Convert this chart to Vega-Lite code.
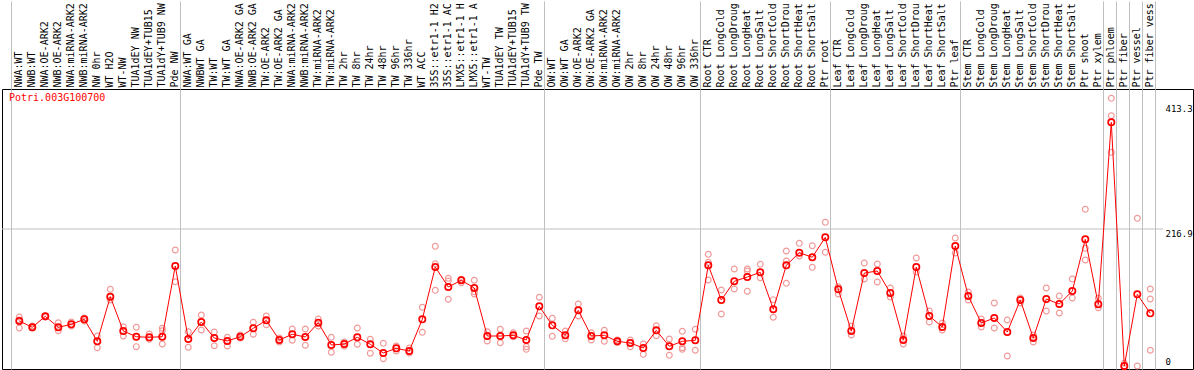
{
  "$schema": "https://vega.github.io/schema/vega-lite/v6.json",
  "width": 1191,
  "height": 280,
  "autosize": {"type": "none"},
  "padding": {"left": 2, "top": 89, "right": 1, "bottom": 1},
  "background": "white",
  "config": {"view": {"stroke": "black", "strokeWidth": 1}},
  "title": {"text": "Potri.003G100700", "anchor": "start", "frame": "group", "orient": "top", "font": "DejaVu Sans Mono", "fontSize": 10, "fontWeight": "normal", "color": "#ff0000", "dx": 7, "dy": 102, "offset": 0},
  "datasets": {
    "means": [
      {"i":1,"v":71.2},{"i":2,"v":61.3},{"i":3,"v":78.7},{"i":4,"v":61.3},{"i":5,"v":66.0},{"i":6,"v":73.9},{"i":7,"v":39.1},{"i":8,"v":109.7},{"i":9,"v":55.4},{"i":10,"v":46.4},
      {"i":11,"v":45.4},{"i":12,"v":46.4},{"i":13,"v":158.3},{"i":14,"v":42.7},{"i":15,"v":69.7},{"i":16,"v":44.3},{"i":17,"v":39.6},{"i":18,"v":46.4},{"i":19,"v":59.7},{"i":20,"v":72.3},
      {"i":21,"v":41.2},{"i":22,"v":50.2},{"i":23,"v":45.9},{"i":24,"v":68.5},{"i":25,"v":33.2},{"i":26,"v":34.8},{"i":27,"v":45.4},{"i":28,"v":34.4},{"i":29,"v":20.6},{"i":30,"v":28.0},
      {"i":31,"v":23.7},{"i":32,"v":73.9},{"i":33,"v":156.7},{"i":34,"v":125.1},{"i":35,"v":135.7},{"i":36,"v":123.5},{"i":37,"v":47.5},{"i":38,"v":47.5},{"i":39,"v":48.6},{"i":40,"v":41.2},
      {"i":41,"v":94.5},{"i":42,"v":64.4},{"i":43,"v":48.6},{"i":44,"v":88.2},{"i":45,"v":47.5},{"i":46,"v":48.6},{"i":47,"v":39.1},{"i":48,"v":36.4},{"i":49,"v":28.5},{"i":50,"v":56.5},
      {"i":51,"v":31.2},{"i":52,"v":39.1},{"i":53,"v":40.7},{"i":54,"v":159.4},{"i":55,"v":104.5},{"i":56,"v":134.1},{"i":57,"v":140.9},{"i":58,"v":148.3},{"i":59,"v":89.8},{"i":60,"v":159.4},
      {"i":61,"v":179.4},{"i":62,"v":172.1},{"i":63,"v":203.7},{"i":64,"v":121.4},{"i":65,"v":55.4},{"i":66,"v":147.2},{"i":67,"v":150.4},{"i":68,"v":115.6},{"i":69,"v":41.2},{"i":70,"v":156.7},
      {"i":71,"v":79.2},{"i":72,"v":61.7},{"i":73,"v":190.0},{"i":74,"v":110.8},{"i":75,"v":68.1},{"i":76,"v":76.0},{"i":77,"v":53.8},{"i":78,"v":104.5},{"i":79,"v":44.3},{"i":80,"v":106.1},
      {"i":81,"v":98.1},{"i":82,"v":118.7},{"i":83,"v":200.6},{"i":84,"v":97.7},{"i":85,"v":385.8},{"i":86,"v":0},{"i":87,"v":113.5},{"i":88,"v":83.4}
    ],
    "reps": [
      {"i":1,"v":77.6},{"i":1,"v":72.8},{"i":1,"v":60.2},{"i":2,"v":63.3},{"i":2,"v":60.2},{"i":3,"v":79.2},{"i":3,"v":77.6},{"i":4,"v":68.5},{"i":4,"v":55.9},
      {"i":5,"v":69.7},{"i":5,"v":63.3},{"i":6,"v":76.0},{"i":6,"v":71.2},{"i":7,"v":47.5},{"i":7,"v":29.0},{"i":8,"v":121.4},{"i":8,"v":104.5},{"i":9,"v":62.2},{"i":9,"v":47.5},
      {"i":10,"v":61.3},{"i":10,"v":30.6},{"i":11,"v":50.7},{"i":11,"v":42.3},{"i":12,"v":59.7},{"i":12,"v":55.9},{"i":12,"v":34.8},{"i":13,"v":183.6},{"i":13,"v":133.4},
      {"i":14,"v":54.3},{"i":14,"v":29.6},{"i":15,"v":80.7},{"i":15,"v":57.0},{"i":16,"v":53.8},{"i":16,"v":32.1},{"i":17,"v":45.4},{"i":17,"v":31.7},{"i":18,"v":49.1},{"i":18,"v":44.3},
      {"i":19,"v":69.2},{"i":19,"v":50.2},{"i":20,"v":79.2},{"i":20,"v":65.4},{"i":21,"v":44.3},{"i":21,"v":38.0},{"i":22,"v":58.6},{"i":22,"v":40.7},{"i":23,"v":58.6},{"i":23,"v":32.8},
      {"i":24,"v":74.4},{"i":24,"v":63.3},{"i":25,"v":45.4},{"i":25,"v":21.7},{"i":26,"v":38.0},{"i":26,"v":31.7},{"i":27,"v":60.2},{"i":27,"v":34.4},{"i":28,"v":42.3},{"i":28,"v":20.1},
      {"i":29,"v":35.9},{"i":29,"v":11.6},{"i":30,"v":31.7},{"i":30,"v":23.7},{"i":31,"v":28.5},{"i":31,"v":20.6},{"i":32,"v":92.9},{"i":32,"v":53.3},
      {"i":33,"v":189.5},{"i":33,"v":161.9},{"i":33,"v":119.8},{"i":34,"v":138.8},{"i":34,"v":134.6},{"i":34,"v":105.6},{"i":35,"v":137.2},{"i":35,"v":131.9},
      {"i":36,"v":135.7},{"i":36,"v":117.6},{"i":36,"v":114.0},{"i":37,"v":54.3},{"i":37,"v":39.6},{"i":38,"v":58.1},{"i":38,"v":36.9},{"i":39,"v":52.7},{"i":39,"v":46.4},
      {"i":40,"v":55.4},{"i":40,"v":30.6},{"i":40,"v":26.4},{"i":41,"v":108.8},{"i":41,"v":79.2},{"i":42,"v":75.5},{"i":42,"v":47.0},{"i":43,"v":55.4},{"i":43,"v":43.2},
      {"i":44,"v":98.1},{"i":44,"v":79.2},{"i":45,"v":52.7},{"i":45,"v":41.2},{"i":46,"v":56.5},{"i":46,"v":39.1},{"i":47,"v":41.2},{"i":47,"v":37.2},{"i":48,"v":41.2},{"i":48,"v":30.6},
      {"i":49,"v":34.8},{"i":49,"v":18.5},{"i":50,"v":63.8},{"i":50,"v":48.0},{"i":51,"v":42.7},{"i":51,"v":16.9},{"i":52,"v":54.9},{"i":52,"v":29.0},{"i":52,"v":26.4},{"i":53,"v":58.1},{"i":53,"v":24.9},
      {"i":54,"v":176.8},{"i":54,"v":164.2},{"i":54,"v":136.1},{"i":55,"v":120.3},{"i":55,"v":82.3},{"i":56,"v":153.6},{"i":56,"v":121.9},{"i":57,"v":153.6},{"i":57,"v":150.4},{"i":57,"v":118.3},
      {"i":58,"v":161.0},{"i":58,"v":139.8},{"i":59,"v":105.0},{"i":59,"v":77.1},{"i":60,"v":182.0},{"i":60,"v":166.2},{"i":60,"v":130.9},{"i":61,"v":194.2},{"i":61,"v":174.1},
      {"i":62,"v":190.4},{"i":62,"v":156.2},{"i":63,"v":227.5},{"i":63,"v":180.0},{"i":64,"v":125.5},{"i":64,"v":114.0},{"i":65,"v":63.3},{"i":65,"v":49.1},{"i":66,"v":163.0},{"i":66,"v":137.7},
      {"i":67,"v":161.5},{"i":67,"v":133.0},{"i":68,"v":123.5},{"i":68,"v":109.2},{"i":69,"v":47.5},{"i":69,"v":34.8},{"i":70,"v":171.0},{"i":70,"v":148.8},{"i":71,"v":87.1},{"i":71,"v":69.7},
      {"i":72,"v":68.1},{"i":72,"v":57.0},{"i":73,"v":202.6},{"i":73,"v":178.9},{"i":74,"v":117.1},{"i":74,"v":104.5},{"i":75,"v":74.4},{"i":75,"v":61.7},{"i":76,"v":99.7},{"i":76,"v":60.2},
      {"i":77,"v":72.8},{"i":77,"v":15.8},{"i":78,"v":107.6},{"i":78,"v":99.7},{"i":79,"v":49.1},{"i":79,"v":38.0},{"i":80,"v":123.5},{"i":80,"v":87.1},{"i":81,"v":110.8},{"i":81,"v":83.9},
      {"i":82,"v":137.7},{"i":82,"v":107.6},{"i":83,"v":248.1},{"i":83,"v":186.3},{"i":83,"v":167.8},{"i":84,"v":107.2},{"i":84,"v":92.3},{"i":85,"v":423.8},{"i":85,"v":396.2},{"i":85,"v":338.3},
      {"i":86,"v":4.3},{"i":86,"v":0},{"i":87,"v":233.8},{"i":87,"v":0},{"i":88,"v":121.9},{"i":88,"v":106.1},{"i":88,"v":24.9}
    ]
  },
  "resolve": {"axis": {"x": "independent", "y": "independent"}},
  "layer": [
    {
      "data": {"values": [{}]},
      "mark": {"type": "rule", "color": "#c0c0c0", "strokeWidth": 1},
      "encoding": {
        "x": {"datum": -0.33, "type": "quantitative", "scale": {"domain": [-0.33, 91.285], "nice": false, "zero": false}, "axis": null},
        "x2": {"datum": 89.0},
        "y": {"datum": 216.9, "type": "quantitative", "scale": {"domain": [-4.75, 438.6], "nice": false, "zero": false}, "axis": null}
      }
    },
    {
      "data": {"name": "reps"},
      "mark": {"type": "point", "shape": "circle", "filled": false, "size": 34, "strokeWidth": 1.2, "color": "#f09a9a", "opacity": 1},
      "encoding": {
        "x": {"field": "i", "type": "quantitative", "scale": {"domain": [-0.33, 91.285], "nice": false, "zero": false},
          "axis": {"orient": "top", "values": [0.4, 13.4, 41.4, 53.4, 63.4, 73.4, 84.4, 85.4, 86.4, 87.4, 88.4], "labels": false, "domain": false, "ticks": true, "tickSize": 88, "tickColor": "#c0c0c0", "tickWidth": 1, "grid": true, "gridColor": "#c0c0c0", "gridWidth": 1, "gridOpacity": 1, "title": null}},
        "y": {"field": "v", "type": "quantitative", "scale": {"domain": [-4.75, 438.6], "nice": false, "zero": false}, "axis": null}
      }
    },
    {
      "data": {"name": "means"},
      "mark": {"type": "line", "color": "#ff0000", "strokeWidth": 1},
      "encoding": {
        "x": {"field": "i", "type": "quantitative",
          "axis": {"orient": "top", "values": [1,2,3,4,5,6,7,8,9,10,11,12,13,14,15,16,17,18,19,20,21,22,23,24,25,26,27,28,29,30,31,32,33,34,35,36,37,38,39,40,41,42,43,44,45,46,47,48,49,50,51,52,53,54,55,56,57,58,59,60,61,62,63,64,65,66,67,68,69,70,71,72,73,74,75,76,77,78,79,80,81,82,83,84,85,86,87,88],
            "labelExpr": "['NWA:WT','NWB:WT','NWA:OE-ARK2','NWB:OE-ARK2','NWA:miRNA-ARK2','NWB:miRNA-ARK2','NW 0hr','WT H2O','WT-NW','TUA1dEY NW','TUA1dEY+TUB15','TUA1dY+TUB9 NW','Pde NW','NWA:WT GA','NWBWT GA','TW:WT','TW:WT GA','NWA:OE-ARK2 GA','NWB:OE-ARK2 GA','TW:OE-ARK2','TW:OE-ARK2 GA','NWA:miRNA-ARK2','NWB:miRNA-ARK2','TW:miRNA-ARK2','TW:miRNA-ARK2','TW 2hr','TW 8hr','TW 24hr','TW 48hr','TW 96hr','TW 336hr','WT ACC','35S::etr1-1 H2','35S::etr1-1 AC','LMX5::etr1-1 H','LMX5::etr1-1 A','WT-TW','TUA1dEY TW','TUA1dEY+TUB15','TUA1dY+TUB9 TW','Pde TW','OW:WT','OW:WT GA','OW:OE-ARK2','OW:OE-ARK2 GA','OW:miRNA-ARK2','OW:miRNA-ARK2','OW 2hr','OW 8hr','OW 24hr','OW 48hr','OW 96hr','OW 336hr','Root CTR','Root LongCold','Root LongDroug','Root LongHeat','Root LongSalt','Root ShortCold','Root ShortDrou','Root ShortHeat','Root ShortSalt','Ptr root','Leaf CTR','Leaf LongCold','Leaf LongDroug','Leaf LongHeat','Leaf LongSalt','Leaf ShortCold','Leaf ShortDrou','Leaf ShortHeat','Leaf ShortSalt','Ptr leaf','Stem CTR','Stem LongCold','Stem LongDroug','Stem LongHeat','Stem LongSalt','Stem ShortCold','Stem ShortDrou','Stem ShortHeat','Stem ShortSalt','Ptr shoot','Ptr xylem','Ptr phloem','Ptr fiber','Ptr vessel','Ptr fiber vess'][datum.value-1]",
            "labelAngle": 270, "labelAlign": "left", "labelBaseline": "middle", "labelPadding": 2, "labelOffset": -1,
            "labelFont": "DejaVu Sans Mono", "labelFontSize": 10, "labelColor": "black",
            "labelOverlap": false, "labelBound": false, "labelFlush": false, "labelLimit": 0,
            "ticks": false, "domain": false, "grid": false, "title": null}},
        "y": {"field": "v", "type": "quantitative",
          "axis": {"orient": "right", "values": [0, 216.9, 413.3], "labelExpr": "datum.value == 0 ? '0' : format(datum.value, '.1f')",
            "labelAlign": "left", "labelPadding": -28, "labelBaseline": {"condition": {"test": "datum.value == 0", "value": "bottom"}, "value": "top"},
            "labelFont": "DejaVu Sans Mono", "labelFontSize": 9, "labelColor": "black",
            "ticks": false, "domain": false, "grid": false, "title": null, "labelOverlap": false, "labelBound": false}}
      }
    },
    {
      "data": {"name": "means"},
      "mark": {"type": "point", "shape": "circle", "filled": false, "size": 40, "strokeWidth": 1.7, "color": "#ff0000", "opacity": 1},
      "encoding": {
        "x": {"field": "i", "type": "quantitative", "axis": null},
        "y": {"field": "v", "type": "quantitative", "axis": null}
      }
    }
  ]
}
